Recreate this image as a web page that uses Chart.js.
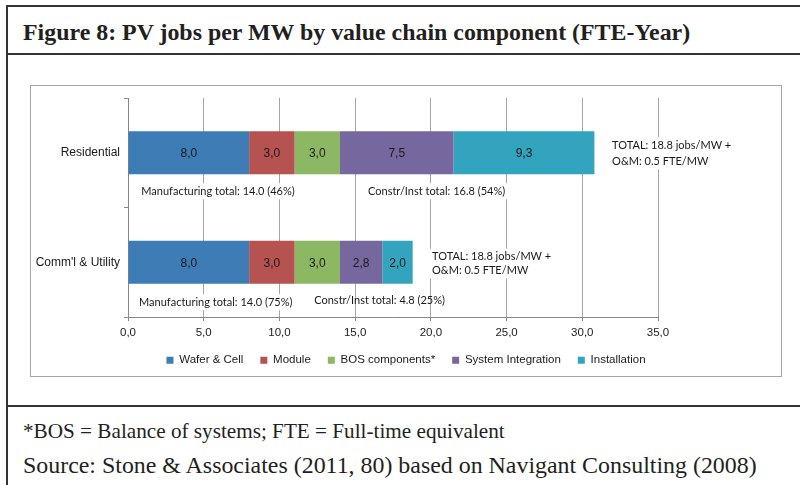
<!DOCTYPE html>
<html>
<head>
<meta charset="utf-8">
<script src="https://cdn.jsdelivr.net/npm/chart.js"></script>
<style>
    body {
        margin: 0;
        width: 800px;
        height: 485px;
        overflow: hidden;
        position: relative;
        background: #fff;
        font-family: "Liberation Serif", "Times New Roman", serif;
        color: #231f20;
    }
    #frame {
        position: absolute;
        left: 6px;
        top: 5px;
        width: 830px;
        height: 520px;
        border: 2px solid #333;
        box-sizing: border-box;
    }
    .rule {
        position: absolute;
        left: 6px;
        width: 800px;
        height: 2px;
        background: #333;
    }
    .line {
        position: absolute;
        left: 23px;
        height: 0;
        line-height: 0;
        white-space: nowrap;
    }
    #title { top: 32px; font-size: 23.9px; font-weight: bold; }
    #note1 { top: 431px; font-size: 21.2px; }
    #note2 { top: 465px; font-size: 23.9px; }
    #chartBox {
        position: absolute;
        left: 30px;
        top: 85px;
        width: 752px;
        height: 292px;
        border: 1px solid #a6a6a6;
        box-sizing: border-box;
    }
    #chartBox canvas {
        position: absolute;
        left: 0;
        top: 0;
    }
</style>
</head>
<body>
<div id="frame"></div>
<div class="rule" style="top:53px"></div>
<div class="rule" style="top:405px"></div>
<div class="line" id="title">Figure 8: PV jobs per MW by value chain component (FTE-Year)</div>
<div id="chartBox"><canvas id="CHART_PV_Jobs" width="750" height="290"></canvas></div>
<div class="line" id="note1">*BOS = Balance of systems; FTE = Full-time equivalent</div>
<div class="line" id="note2">Source: Stone &amp; Associates (2011, 80) based on Navigant Consulting (2008)</div>

<script>
// chart data
const categories = ['Residential', "Comm'l & Utility"];
const seriesNames = ['Wafer & Cell', 'Module', 'BOS components*', 'System Integration', 'Installation'];
const waferCell = [8.0, 8.0];
const moduleJobs = [3.0, 3.0];
const bosComponents = [3.0, 3.0];
const systemIntegration = [7.5, 2.8];
const installation = [9.3, 2.0];
const seriesColors = ['#3E7CB6', '#B65250', '#8CB763', '#76679E', '#33A4BE'];

const axisMin = 0;
const axisMax = 35;
const axisStep = 5;

const mfgTotals = ['Manufacturing total: 14.0 (46%)', 'Manufacturing total: 14.0 (75%)'];
const constrTotals = ['Constr/Inst total: 16.8 (54%)', 'Constr/Inst total: 4.8 (25%)'];
const grandTotals = [
    ['TOTAL: 18.8 jobs/MW +', 'O&M: 0.5 FTE/MW'],
    ['TOTAL: 18.8 jobs/MW +', 'O&M: 0.5 FTE/MW']
];

function commaNum(v) {
    return Number(v).toFixed(1).replace('.', ',');
}

// where the text notes sit: x in axis units, dy in px from the category centre
const notePlaces = [
    { text: mfgTotals[0], cat: 0, at: 0.88, dy: 38.5, box: true },
    { text: constrTotals[0], cat: 0, at: 15.85, dy: 38.5, box: true },
    { text: grandTotals[0][0], cat: 0, at: 31.97, dy: -7.5, box: true },
    { text: grandTotals[0][1], cat: 0, at: 31.97, dy: 8.5, box: true },
    { text: mfgTotals[1], cat: 1, at: 0.73, dy: 40, box: true },
    { text: constrTotals[1], cat: 1, at: 12.3, dy: 38.5, box: false },
    { text: grandTotals[1][0], cat: 1, at: 20.08, dy: -5.5, box: true },
    { text: grandTotals[1][1], cat: 1, at: 20.08, dy: 8, box: true }
];

const labelPlugin = {
    id: 'labelPlugin',
    afterDatasetsDraw(chart) {
        let ctx = chart.ctx;
        let x = chart.scales.x;
        let y = chart.scales.y;
        ctx.save();

        ctx.font = '12px "Liberation Sans", Arial, sans-serif';
        ctx.fillStyle = '#1a1a1a';
        ctx.textAlign = 'center';
        ctx.textBaseline = 'middle';
        chart.data.datasets.forEach((ds, i) => {
            chart.getDatasetMeta(i).data.forEach((bar, j) => {
                ctx.fillText(commaNum(ds.data[j]), (bar.x + bar.base) / 2, bar.y + 1);
            });
        });

        ctx.font = '11px Lato, "Open Sans", sans-serif';
        ctx.textAlign = 'left';
        for (let i = 0; i < notePlaces.length; i++) {
            let n = notePlaces[i];
            let px = x.getPixelForValue(n.at);
            let py = y.getPixelForValue(n.cat) + n.dy;
            let w = ctx.measureText(n.text).width;
            if (n.box) {
                ctx.fillStyle = '#fff';
                ctx.fillRect(px - 3, py - 8, w + 6, 16);
            }
            ctx.fillStyle = '#1a1a1a';
            ctx.fillText(n.text, px, py);
        }
        ctx.restore();
    }
};

const seriesData = [waferCell, moduleJobs, bosComponents, systemIntegration, installation];
let data = {
    labels: categories,
    datasets: []
};
for (let i = 0; i < seriesNames.length; i++) {
    data.datasets.push({
        label: seriesNames[i],
        data: seriesData[i],
        backgroundColor: seriesColors[i],
        borderWidth: 0,
        barPercentage: 0.393,
        categoryPercentage: 1.0
    });
}

let chart = new Chart(document.getElementById('CHART_PV_Jobs').getContext('2d'), {
    type: 'bar',
    data: data,
    plugins: [labelPlugin],
    options: {
        indexAxis: 'y',
        responsive: false,
        animation: false,
        devicePixelRatio: 1,
        layout: {
            padding: { left: 0, right: 0, top: 12, bottom: 0 }
        },
        plugins: {
            tooltip: { enabled: false },
            legend: {
                position: 'bottom',
                labels: {
                    boxWidth: 7,
                    boxHeight: 7,
                    padding: 17,
                    color: '#1a1a1a',
                    font: { family: '"Liberation Sans", Arial, sans-serif', size: 11.5 }
                }
            }
        },
        scales: {
            x: {
                type: 'linear',
                stacked: true,
                min: axisMin,
                max: axisMax,
                ticks: {
                    stepSize: axisStep,
                    maxRotation: 0,
                    padding: 5,
                    color: '#1a1a1a',
                    font: { family: '"Liberation Sans", Arial, sans-serif', size: 11.5 },
                    callback: (v) => commaNum(v)
                },
                grid: { color: '#a6a6a6', tickLength: 4, tickColor: '#888' },
                border: { color: '#888' },
                afterFit: (s) => { s.height = 20.5; }
            },
            y: {
                type: 'category',
                stacked: true,
                offset: true,
                ticks: {
                    padding: 4,
                    color: '#1a1a1a',
                    font: { family: '"Liberation Sans", Arial, sans-serif', size: 12 }
                },
                grid: { offset: true, drawOnChartArea: false, tickLength: 4, color: '#888' },
                border: { color: '#888' },
                afterFit: (s) => { s.width = 97; }
            },
            // empty right-hand space where the TOTAL notes sit
            yRight: {
                axis: 'y',
                type: 'linear',
                position: 'right',
                grid: { display: false },
                border: { display: false },
                ticks: { display: false },
                afterFit: (s) => { s.width = 123; }
            }
        }
    }
});
</script>
</body>
</html>
